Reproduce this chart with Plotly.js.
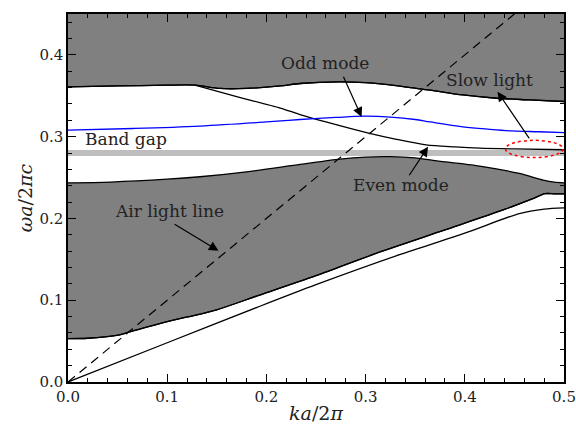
<!DOCTYPE html>
<html>
<head>
<meta charset="utf-8">
<script src="https://cdn.plot.ly/plotly-3.0.1.min.js"></script>
<style>html,body{margin:0;padding:0;background:#fff;}#chart{width:576px;height:424px;}</style>
</head>
<body>
<div id="chart"></div>
<script>
// Axis ranges and ticks
var xRange = [0, 0.5];
var yRange = [0, 0.45];

// Upper band (gray region above): lower edge
var upperK = [0, 0.05, 0.10, 0.128, 0.153, 0.18, 0.214, 0.234, 0.274, 0.30, 0.32, 0.345, 0.365, 0.398, 0.432, 0.465, 0.5];
var upperW = [0.361, 0.362, 0.363, 0.363, 0.359, 0.359, 0.362, 0.365, 0.367, 0.366, 0.364, 0.360, 0.357, 0.351, 0.347, 0.345, 0.343];

// Even mode (descends from upper band to band gap)
var evenK = [0.128, 0.17, 0.214, 0.234, 0.26, 0.304, 0.33, 0.361, 0.39, 0.415, 0.45, 0.5];
var evenW = [0.363, 0.349, 0.335, 0.327, 0.318, 0.304, 0.297, 0.290, 0.2875, 0.286, 0.285, 0.284];

// Odd mode (blue)
var oddK = [0, 0.066, 0.133, 0.2, 0.234, 0.27, 0.298, 0.325, 0.35, 0.365, 0.398, 0.425, 0.448, 0.475, 0.5];
var oddW = [0.308, 0.310, 0.313, 0.318, 0.321, 0.3235, 0.325, 0.324, 0.321, 0.318, 0.312, 0.309, 0.307, 0.306, 0.305];

// Middle gray band: upper edge
var midTopK = [0, 0.043, 0.1, 0.133, 0.18, 0.234, 0.274, 0.30, 0.325, 0.35, 0.368, 0.415, 0.455, 0.479, 0.49, 0.5];
var midTopW = [0.2436, 0.2445, 0.248, 0.251, 0.257, 0.266, 0.2725, 0.275, 0.2755, 0.274, 0.271, 0.264, 0.255, 0.247, 0.2445, 0.2436];

// Middle gray band: lower edge
var midBotK = [0, 0.02, 0.049, 0.064, 0.099, 0.149, 0.19, 0.25, 0.3145, 0.38, 0.44, 0.468, 0.481, 0.49, 0.5];
var midBotW = [0.053, 0.0535, 0.057, 0.062, 0.0735, 0.088, 0.105, 0.130, 0.159, 0.186, 0.211, 0.224, 0.2303, 0.2301, 0.2300];

// Lowest guided band
var lowK = [0, 0.1, 0.19, 0.25, 0.335, 0.40, 0.455, 0.48, 0.5];
var lowW = [0, 0.048, 0.091, 0.119, 0.156, 0.182, 0.206, 0.2115, 0.213];

// Air light line
var airK = [0, 0.45];
var airW = [0, 0.45];

// Band gap
var gapK = [0, 0.5];
var gapW = [0.280, 0.280];

var gray = '#808080';
var lineBlk = {color: '#000', width: 1.3, shape: 'spline', smoothing: 0.8};

var traces = [
  {x: gapK, y: gapW, mode: 'lines', line: {color: '#bebebe', width: 6}},
  {x: upperK, y: upperW, mode: 'lines', line: lineBlk},
  {x: xRange, y: [yRange[1], yRange[1]], mode: 'lines', line: {width: 0}, fill: 'tonexty', fillcolor: gray},
  {x: midBotK, y: midBotW, mode: 'lines', line: lineBlk},
  {x: midTopK, y: midTopW, mode: 'lines', line: lineBlk, fill: 'tonexty', fillcolor: gray},
  {x: upperK, y: upperW, mode: 'lines', line: lineBlk},
  {x: midBotK, y: midBotW, mode: 'lines', line: lineBlk},
  {x: evenK, y: evenW, mode: 'lines', line: lineBlk},
  {x: oddK, y: oddW, mode: 'lines', line: {color: '#0000ff', width: 1.3, shape: 'spline'}},
  {x: lowK, y: lowW, mode: 'lines', line: lineBlk},
  {x: airK, y: airW, mode: 'lines', line: {color: '#000', width: 1.2, dash: '9px,6px'}}
];

var tfont = {family: 'DejaVu Serif', size: 17, color: '#222'};
function lbl(t, x, y, xa) {
  return {text: t, x: x, y: y, xref: 'x', yref: 'y', showarrow: false, font: tfont, xanchor: xa || 'center', yanchor: 'middle'};
}
function arr(x, y, ax, ay) {
  return {text: '', x: x, y: y, ax: ax, ay: ay, xref: 'x', yref: 'y', axref: 'x', ayref: 'y',
          showarrow: true, arrowhead: 2, arrowsize: 1.6, arrowwidth: 1.2, arrowcolor: '#000', standoff: 0, startstandoff: 0};
}

var layout = {
  width: 576, height: 424,
  margin: {l: 68, r: 12, t: 14, b: 42},
  paper_bgcolor: '#fff', plot_bgcolor: '#fff',
  showlegend: false,
  font: {family: 'DejaVu Serif', size: 15, color: '#222'},
  xaxis: {
    range: xRange, dtick: 0.1, tick0: 0, tickformat: '.1f',
    ticks: 'inside', ticklen: 8, tickwidth: 1.1, tickcolor: '#000',
    minor: {dtick: 0.02, ticks: 'inside', ticklen: 4, tickwidth: 1, tickcolor: '#000'},
    showline: true, linecolor: '#000', linewidth: 1.6, mirror: 'allticks',
    showgrid: false, zeroline: false,
    tickfont: {family: 'DejaVu Serif', size: 15, color: '#222'},
    title: {text: '<i>ka</i>/2<i>π</i>', font: {family: 'DejaVu Serif', size: 19, color: '#222'}, standoff: 10}
  },
  yaxis: {
    range: yRange, dtick: 0.1, tick0: 0, tickformat: '.1f',
    ticks: 'inside', ticklen: 8, tickwidth: 1.1, tickcolor: '#000',
    minor: {dtick: 0.02, ticks: 'inside', ticklen: 4, tickwidth: 1, tickcolor: '#000'},
    showline: true, linecolor: '#000', linewidth: 1.6, mirror: 'allticks',
    showgrid: false, zeroline: false,
    tickfont: {family: 'DejaVu Serif', size: 15, color: '#222'},
    title: {text: '<i>ωa</i>/2<i>πc</i>', font: {family: 'DejaVu Serif', size: 19, color: '#222'}, standoff: 2}
  },
  shapes: [
    {type: 'circle', xref: 'x', yref: 'y', x0: 0.441, x1: 0.499, y0: 0.2745, y1: 0.2955,
     line: {color: '#ff0000', width: 1.5, dash: 'dot'}}
  ],
  annotations: [
    lbl('Odd mode', 0.259, 0.390),
    lbl('Slow light', 0.425, 0.369),
    lbl('Band gap', 0.0151, 0.2967, 'left'),
    lbl('Even mode', 0.336, 0.241),
    lbl('Air light line', 0.102, 0.209),
    arr(0.296, 0.324, 0.277, 0.375),
    arr(0.433, 0.355, 0.466, 0.296),
    arr(0.363, 0.2877, 0.343, 0.251),
    arr(0.1517, 0.1604, 0.106, 0.194)
  ]
};

Plotly.newPlot('chart', traces, layout, {displayModeBar: false, staticPlot: true});
</script>
</body>
</html>
